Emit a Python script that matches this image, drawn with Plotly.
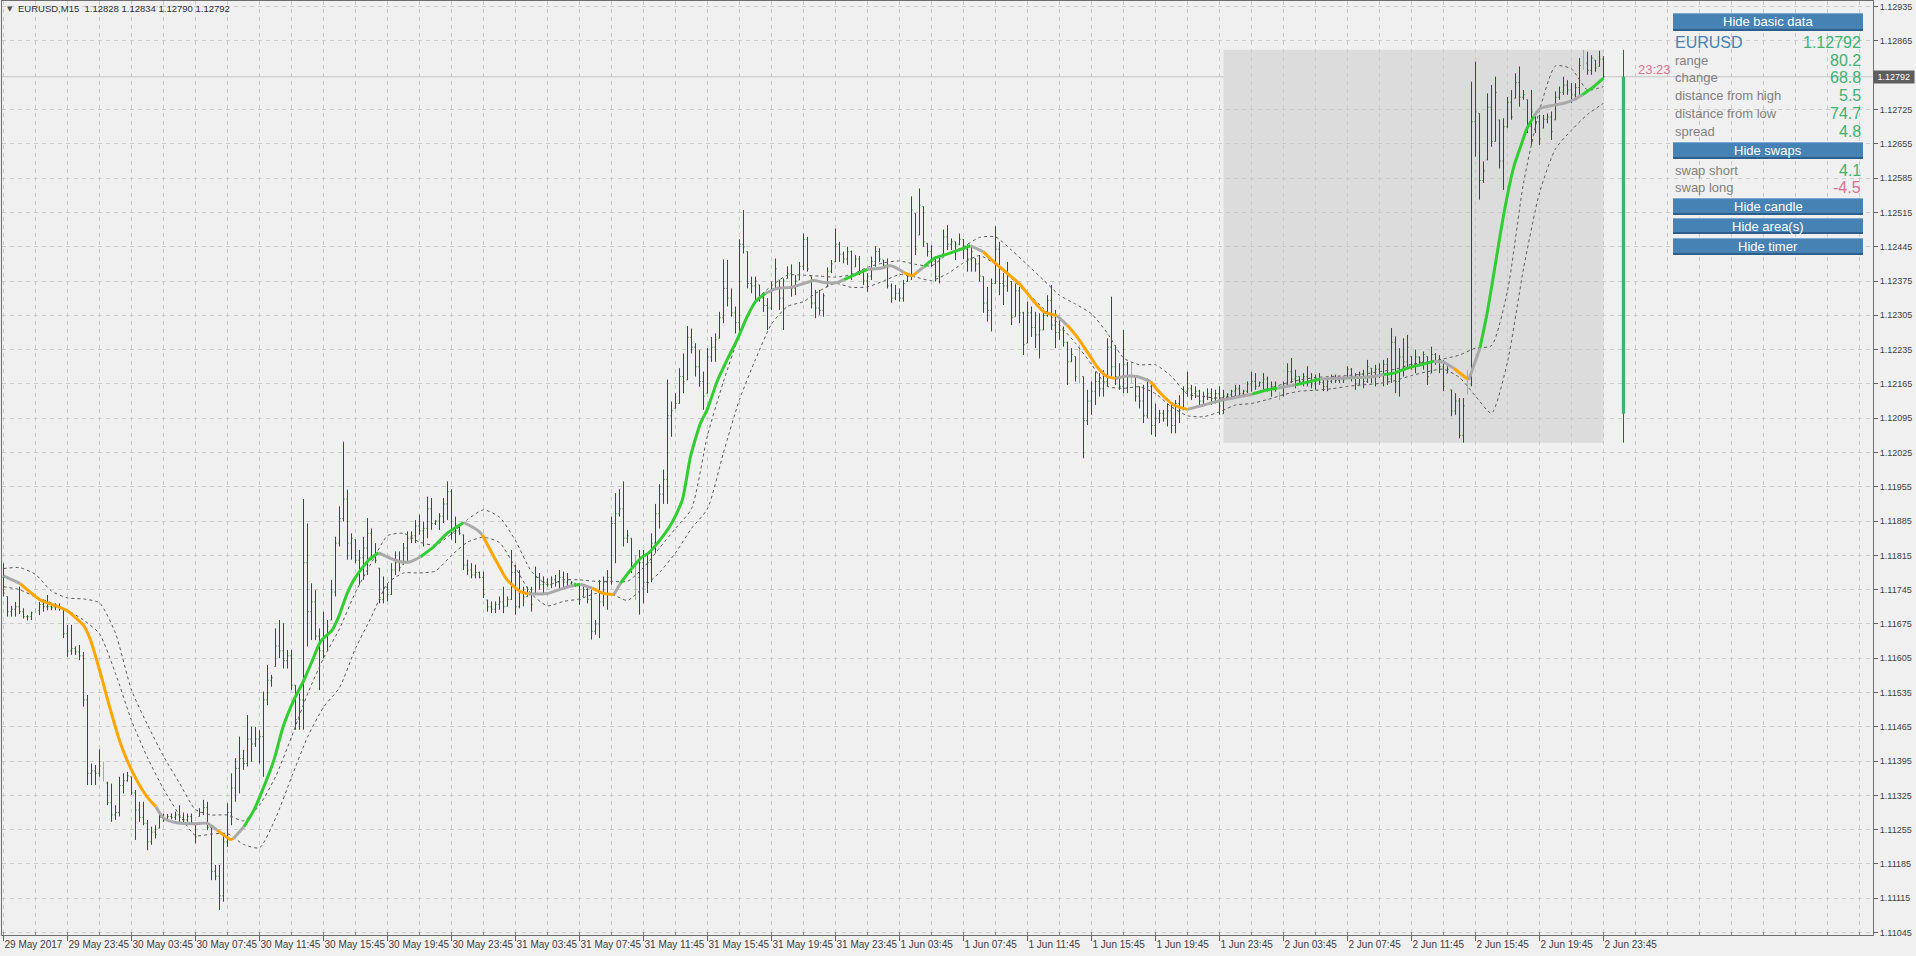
import plotly.graph_objects as go

# ---------------- DATA (prices stored as pips above BASE) ----------------
BASE = 1.1100
PIP = 0.0001

hi_p = [
79.9, 73.1, 71.2, 72.0, 75.1, 70.7, 69.3, 70.0, 70.7, 72.0,
72.4, 73.4, 71.7, 71.7, 71.7, 70.7, 67.3, 67.3, 62.9, 63.2,
61.8, 53.0, 39.0, 38.7, 41.9, 39.4, 35.3, 34.9, 30.5, 36.3,
37.0, 37.3, 36.3, 33.6, 31.2, 31.2, 27.5, 26.1, 26.4, 28.8,
28.8, 28.7, 28.8, 29.2, 30.5, 29.0, 28.8, 28.8, 26.8, 29.9,
31.6, 31.2, 26.1, 18.3, 18.3, 24.4, 30.9, 37.0, 40.1, 44.5,
41.8, 48.9, 46.5, 46.5, 45.8, 53.7, 59.1, 57.1, 66.6, 68.3,
67.6, 62.2, 62.2, 55.0, 53.3, 93.0, 88.0, 75.8, 74.4, 66.6,
70.0, 68.3, 76.5, 85.3, 91.5, 104.7, 94.9, 86.0, 84.7, 82.6,
85.3, 89.1, 87.0, 84.0, 78.9, 77.2, 75.8, 79.9, 82.3, 82.3,
84.0, 86.4, 86.4, 88.7, 89.8, 88.4, 93.5, 93.2, 88.7, 90.1,
93.2, 96.6, 95.0, 89.4, 87.4, 85.7, 80.6, 79.9, 79.6, 78.2,
78.2, 72.4, 72.1, 72.1, 73.1, 75.1, 73.1, 82.6, 79.6, 78.5,
75.1, 75.1, 75.1, 79.2, 77.9, 77.2, 76.8, 77.2, 77.5, 78.5,
78.2, 77.9, 76.2, 75.8, 75.8, 75.1, 74.8, 74.5, 68.3, 76.5,
77.2, 78.5, 89.4, 94.2, 95.0, 96.6, 86.7, 85.0, 81.6, 82.6,
82.6, 81.9, 86.0, 92.0, 96.0, 99.0, 117.4, 112.9, 114.6, 119.7,
122.7, 128.3, 127.8, 124.8, 123.4, 119.0, 123.8, 126.1, 126.8, 131.2,
141.9, 141.8, 136.0, 132.3, 146.0, 152.0, 143.5, 138.4, 138.4, 136.7,
134.6, 134.0, 137.4, 142.1, 137.7, 138.0, 140.5, 140.9, 138.7, 141.4,
147.2, 146.5, 138.4, 135.7, 135.7, 135.0, 140.3, 141.8, 148.2, 145.5,
143.5, 144.5, 143.7, 142.8, 142.6, 139.4, 139.1, 142.5, 144.6, 144.2,
141.8, 142.1, 137.0, 136.7, 136.0, 137.7, 139.1, 154.8, 151.3, 156.4,
152.7, 145.2, 144.8, 142.5, 142.8, 148.0, 148.9, 146.2, 145.5, 147.2,
146.0, 145.0, 144.8, 142.1, 142.8, 138.4, 136.3, 138.0, 148.7, 145.5,
139.1, 141.4, 137.4, 137.0, 136.3, 131.2, 133.3, 132.3, 131.2, 130.9,
131.2, 134.6, 136.7, 131.6, 129.5, 128.2, 125.1, 123.8, 122.1, 124.4,
118.0, 115.3, 117.0, 119.0, 118.7, 119.3, 125.8, 134.3, 124.4, 120.7,
127.5, 121.0, 121.0, 118.0, 116.0, 116.3, 117.6, 117.0, 112.5, 111.2,
111.2, 112.5, 112.2, 113.2, 114.2, 116.0, 119.0, 116.3, 116.0, 115.3,
114.9, 115.6, 115.6, 115.3, 116.0, 115.3, 114.6, 115.3, 116.3, 116.3,
115.3, 117.0, 119.0, 118.7, 117.0, 118.7, 118.0, 117.0, 117.0, 114.9,
117.0, 120.7, 121.8, 119.4, 118.0, 118.7, 120.1, 118.7, 118.4, 118.7,
117.3, 117.7, 118.4, 118.4, 118.0, 118.0, 120.1, 119.7, 118.7, 119.0,
119.4, 121.4, 119.7, 120.4, 120.7, 121.4, 121.8, 127.9, 126.2, 123.8,
125.8, 126.5, 122.1, 123.5, 122.1, 123.1, 122.1, 124.1, 122.8, 122.4,
121.4, 120.1, 115.3, 114.6, 113.6, 113.6, 119.4, 178.2, 182.3, 171.7,
161.9, 175.8, 177.5, 179.2, 170.4, 170.7, 175.1, 176.5, 179.9, 181.3,
176.5, 174.5, 176.5, 171.7, 171.4, 171.4, 171.7, 172.1, 176.2, 177.2,
179.2, 178.5, 177.9, 177.9, 183.0, 184.7, 184.3, 183.6, 182.6, 184.5,
183.4]

lo_p = [
73.1, 69.0, 69.0, 69.0, 69.5, 68.6, 68.2, 68.3, 69.8, 69.3,
70.0, 70.3, 70.3, 70.3, 70.2, 64.6, 60.8, 61.2, 61.2, 60.1,
50.6, 34.6, 34.6, 34.6, 36.3, 35.3, 30.5, 27.1, 27.5, 28.2,
32.9, 35.3, 32.6, 23.4, 27.1, 26.4, 21.3, 22.4, 23.7, 25.8,
27.1, 27.5, 27.6, 27.5, 26.8, 26.8, 27.1, 26.8, 22.7, 28.2,
28.5, 25.4, 15.2, 15.2, 9.1, 10.8, 22.0, 26.4, 31.2, 32.9,
37.7, 38.4, 39.4, 42.4, 39.0, 36.3, 50.9, 54.7, 58.8, 60.5,
58.4, 58.4, 54.0, 45.9, 45.9, 45.9, 62.9, 64.2, 64.2, 54.0,
60.5, 62.0, 68.3, 73.1, 83.3, 88.4, 80.6, 80.6, 79.9, 75.5,
76.5, 77.5, 80.6, 79.9, 71.7, 71.7, 72.1, 73.4, 77.5, 78.2,
79.6, 79.9, 84.0, 84.0, 85.7, 83.3, 85.0, 86.7, 87.7, 86.7,
88.1, 88.7, 84.7, 84.0, 85.7, 78.5, 77.5, 76.8, 76.8, 76.8,
72.8, 70.0, 69.7, 69.7, 70.4, 69.7, 71.1, 72.4, 69.4, 70.7,
71.1, 73.1, 70.0, 73.8, 74.5, 73.8, 75.1, 74.8, 75.1, 74.5,
74.8, 74.8, 75.5, 75.1, 71.4, 73.1, 71.7, 64.3, 65.3, 64.6,
71.1, 70.4, 75.5, 79.9, 89.4, 83.3, 84.0, 77.9, 72.4, 69.4,
71.7, 73.8, 76.0, 82.0, 87.0, 92.0, 92.0, 105.7, 111.5, 112.5,
114.6, 117.3, 122.7, 118.0, 115.9, 111.2, 114.6, 121.0, 121.0, 125.8,
128.9, 132.3, 130.2, 126.8, 126.1, 143.1, 136.0, 135.0, 133.3, 133.3,
131.2, 127.5, 131.6, 135.7, 131.6, 127.5, 138.0, 134.3, 134.6, 137.7,
139.7, 139.4, 131.9, 129.9, 130.6, 130.2, 136.3, 139.1, 141.4, 141.4,
141.1, 140.8, 137.7, 140.4, 138.7, 136.7, 135.3, 137.7, 140.4, 141.4,
140.4, 136.0, 133.1, 133.6, 133.3, 133.3, 137.4, 137.7, 142.8, 146.9,
144.5, 142.5, 140.4, 137.4, 137.0, 143.1, 143.8, 143.8, 141.8, 144.8,
142.0, 139.4, 139.4, 139.4, 137.4, 131.0, 129.2, 127.2, 137.0, 134.6,
132.6, 135.3, 128.5, 130.2, 128.9, 122.4, 124.8, 126.1, 123.8, 121.7,
127.5, 130.2, 127.5, 123.8, 125.5, 124.1, 116.3, 121.0, 117.0, 116.6,
101.3, 108.1, 110.2, 112.2, 113.9, 113.9, 116.0, 118.0, 116.3, 115.3,
114.6, 114.6, 116.6, 112.9, 111.5, 108.5, 109.5, 106.1, 105.7, 108.5,
108.8, 107.8, 106.4, 106.4, 108.5, 111.2, 113.9, 113.2, 113.6, 111.9,
112.2, 113.2, 112.2, 112.5, 110.2, 110.4, 113.6, 113.6, 113.9, 113.9,
113.9, 114.6, 114.9, 115.3, 116.0, 115.3, 114.9, 113.9, 114.9, 113.2,
113.9, 116.3, 116.7, 115.6, 116.3, 116.0, 116.0, 115.6, 115.3, 116.3,
115.0, 115.0, 116.7, 116.7, 116.7, 116.7, 117.7, 117.0, 115.3, 116.3,
115.6, 116.7, 116.7, 116.0, 117.7, 116.0, 116.3, 116.7, 114.6, 113.9,
118.0, 119.7, 119.4, 118.7, 120.1, 119.4, 116.3, 118.7, 120.4, 118.7,
115.0, 118.7, 109.9, 110.2, 105.4, 104.5, 114.3, 116.0, 162.9, 154.1,
157.5, 162.2, 164.9, 166.0, 160.5, 156.1, 168.7, 170.4, 174.8, 173.1,
174.5, 167.7, 165.3, 167.7, 165.3, 168.7, 169.7, 166.3, 170.4, 174.5,
175.5, 175.5, 173.8, 174.8, 175.5, 180.6, 179.6, 179.6, 180.2, 181.3,
179.0]

op_p = [
77.0, 73.1, 70.0, 70.5, 71.0, 70.0, 69.0, 69.0, 70.2, 70.2,
71.5, 71.0, 71.0, 70.8, 71.2, 70.6, 65.5, 62.0, 62.5, 61.8,
61.0, 52.0, 37.0, 37.5, 37.0, 37.0, 35.0, 31.0, 28.5, 29.0,
34.5, 35.5, 36.3, 33.0, 29.5, 28.0, 26.8, 23.0, 25.0, 25.8,
28.0, 27.5, 28.2, 28.0, 28.5, 28.0, 27.5, 28.2, 26.8, 28.2,
29.0, 30.0, 26.0, 17.0, 16.0, 12.0, 23.0, 29.0, 34.0, 38.0,
40.0, 39.0, 44.0, 43.0, 44.0, 44.5, 52.0, 56.0, 58.8, 63.0,
62.0, 60.0, 61.0, 55.0, 48.0, 52.0, 80.0, 70.0, 72.0, 65.0,
62.0, 65.0, 68.3, 74.0, 84.0, 89.0, 93.0, 84.0, 84.7, 80.5,
81.0, 83.0, 86.0, 81.0, 78.9, 72.5, 75.0, 73.5, 78.5, 80.0,
79.6, 83.0, 85.0, 85.5, 87.5, 86.5, 87.0, 91.0, 88.0, 88.5,
89.5, 92.0, 94.5, 86.0, 86.5, 85.7, 79.5, 78.5, 77.5, 78.0,
77.0, 72.4, 71.0, 70.5, 71.5, 72.0, 71.1, 72.5, 78.0, 71.0,
74.0, 73.1, 74.5, 73.8, 77.0, 75.5, 76.0, 75.5, 76.5, 76.0,
77.0, 76.0, 75.7, 75.8, 75.3, 73.1, 74.5, 72.5, 66.0, 67.5,
72.0, 76.0, 77.0, 88.0, 90.0, 91.0, 85.0, 85.0, 77.0, 77.0,
80.0, 76.0, 80.0, 84.0, 90.0, 94.0, 97.0, 110.0, 111.5, 112.5,
118.0, 117.3, 126.0, 124.0, 120.0, 117.0, 114.6, 122.0, 124.0, 125.8,
130.0, 136.0, 134.0, 131.0, 129.0, 145.0, 143.5, 137.0, 136.5, 136.7,
134.0, 132.5, 132.0, 136.0, 137.7, 134.0, 138.0, 139.0, 136.0, 137.7,
140.5, 146.0, 138.4, 133.0, 132.0, 131.5, 136.3, 139.5, 141.4, 145.0,
143.0, 142.0, 143.5, 140.4, 142.0, 139.4, 137.5, 138.5, 141.5, 143.5,
141.8, 140.8, 136.5, 134.0, 135.0, 134.0, 137.4, 138.5, 151.3, 146.9,
152.7, 145.2, 143.5, 141.5, 138.5, 143.1, 146.5, 145.0, 145.5, 145.0,
146.0, 144.0, 142.0, 142.1, 141.0, 138.4, 133.0, 131.5, 137.0, 144.0,
137.0, 136.5, 137.4, 130.2, 135.5, 131.0, 124.8, 131.0, 128.0, 126.5,
127.5, 130.5, 133.5, 128.5, 127.0, 127.5, 125.0, 121.0, 122.1, 120.5,
118.0, 109.0, 113.0, 115.0, 117.0, 115.5, 117.0, 124.0, 120.0, 118.0,
116.0, 120.5, 118.5, 118.0, 114.0, 113.0, 110.0, 116.0, 108.0, 109.5,
110.5, 109.5, 111.0, 108.0, 112.5, 111.2, 115.0, 115.5, 114.5, 115.0,
113.0, 114.0, 114.5, 113.5, 114.5, 110.4, 114.0, 114.3, 115.0, 115.5,
114.5, 115.0, 116.5, 117.0, 116.0, 116.8, 117.5, 115.5, 116.0, 114.2,
114.2, 116.3, 119.0, 117.5, 118.0, 117.0, 118.0, 117.0, 116.5, 117.5,
116.8, 116.0, 117.0, 117.8, 117.2, 117.6, 117.7, 119.5, 118.0, 116.5,
118.5, 117.0, 119.7, 118.0, 119.5, 118.5, 120.5, 117.5, 125.0, 117.0,
122.0, 121.0, 122.1, 120.5, 122.0, 121.0, 122.1, 118.7, 122.5, 121.0,
120.0, 118.7, 115.3, 111.0, 113.0, 106.0, 116.5, 116.5, 170.0, 171.7,
158.0, 162.2, 173.0, 166.0, 170.4, 162.0, 169.0, 174.0, 174.8, 178.0,
175.0, 174.5, 169.0, 171.7, 170.0, 168.7, 170.5, 171.0, 170.4, 175.0,
176.0, 177.5, 176.5, 175.5, 177.0, 182.0, 182.0, 180.5, 182.6, 181.3,
182.8]

cl_p = [
73.8, 70.0, 70.5, 71.0, 70.0, 69.0, 69.0, 69.8, 70.2, 71.5,
71.0, 71.0, 70.8, 71.2, 70.6, 65.5, 62.0, 62.5, 61.8, 61.0,
52.0, 37.0, 37.5, 37.0, 38.5, 37.0, 31.0, 28.5, 29.0, 34.5,
35.5, 36.5, 33.0, 29.5, 28.0, 26.8, 23.0, 25.0, 24.5, 28.0,
27.5, 28.2, 28.0, 28.5, 28.0, 27.5, 28.2, 27.0, 24.0, 29.0,
30.0, 26.0, 17.0, 16.0, 12.0, 23.0, 29.0, 34.0, 38.0, 40.0,
39.0, 44.0, 43.0, 44.0, 44.5, 52.0, 56.0, 56.5, 63.0, 62.0,
60.0, 61.0, 55.0, 48.0, 52.0, 80.0, 70.0, 72.0, 65.0, 62.0,
65.0, 67.0, 74.0, 84.0, 89.0, 93.0, 84.0, 85.0, 80.5, 81.0,
83.0, 86.0, 81.0, 80.5, 72.5, 75.0, 73.5, 78.5, 80.0, 79.0,
83.0, 85.0, 85.5, 87.5, 86.5, 87.0, 91.0, 88.0, 88.5, 89.5,
92.0, 94.5, 86.0, 86.5, 86.0, 79.5, 78.5, 77.5, 78.0, 77.0,
73.5, 71.0, 70.5, 71.5, 72.0, 71.0, 72.5, 78.0, 71.0, 74.0,
73.0, 74.5, 71.5, 77.0, 75.5, 76.0, 75.5, 76.5, 76.0, 77.0,
76.0, 76.5, 76.0, 75.3, 72.5, 74.5, 72.5, 66.0, 67.5, 72.0,
76.0, 77.0, 88.0, 90.0, 91.0, 85.0, 85.5, 80.0, 77.0, 80.0,
76.0, 80.0, 84.0, 90.0, 94.0, 97.0, 110.0, 111.0, 112.5, 118.0,
117.0, 126.0, 124.0, 120.0, 117.0, 114.0, 122.0, 124.0, 125.5, 130.0,
136.0, 134.0, 131.0, 129.0, 145.0, 144.5, 137.0, 136.5, 137.5, 134.0,
132.5, 132.0, 136.0, 140.0, 134.0, 137.5, 139.0, 136.0, 137.5, 140.5,
146.0, 140.0, 133.0, 132.0, 131.5, 134.5, 139.5, 141.0, 145.0, 143.0,
142.0, 143.5, 139.0, 142.0, 139.5, 137.5, 138.5, 141.5, 143.5, 142.0,
140.8, 136.5, 134.0, 135.0, 134.0, 137.0, 138.5, 152.0, 144.0, 153.0,
145.5, 143.5, 141.5, 138.5, 142.0, 146.5, 145.0, 145.5, 145.0, 146.0,
144.0, 142.0, 143.5, 141.0, 138.5, 133.0, 131.5, 137.0, 144.0, 137.0,
136.5, 139.0, 130.0, 135.5, 131.0, 124.5, 131.0, 128.0, 126.5, 127.5,
130.5, 133.5, 128.5, 127.0, 127.5, 125.0, 121.0, 122.5, 118.0, 120.5,
109.0, 113.0, 115.0, 117.0, 115.5, 117.0, 124.0, 120.0, 118.0, 116.0,
120.5, 118.0, 118.5, 114.0, 113.0, 110.0, 116.0, 108.0, 109.5, 110.5,
109.5, 111.0, 108.0, 112.5, 111.0, 115.0, 115.5, 114.5, 115.0, 113.0,
114.0, 114.5, 113.5, 114.5, 112.0, 114.0, 114.3, 115.0, 115.5, 114.5,
115.0, 116.5, 117.0, 116.0, 116.8, 117.5, 115.5, 116.0, 115.5, 114.2,
116.0, 119.0, 117.5, 118.0, 117.0, 118.0, 117.0, 116.5, 117.5, 116.8,
116.0, 117.0, 117.8, 117.2, 117.6, 117.3, 119.5, 118.0, 116.5, 118.5,
117.0, 120.0, 118.0, 119.5, 118.5, 120.5, 117.5, 125.0, 117.0, 122.0,
121.0, 124.0, 120.5, 122.0, 121.0, 122.5, 118.0, 122.5, 121.0, 120.0,
116.0, 119.5, 111.0, 113.0, 106.0, 112.0, 116.5, 170.0, 172.0, 158.0,
160.0, 173.0, 166.0, 176.0, 162.0, 169.0, 174.0, 171.0, 178.0, 175.0,
175.5, 169.0, 172.0, 170.0, 166.5, 170.5, 171.0, 168.0, 175.0, 176.0,
177.5, 176.5, 175.5, 177.0, 181.5, 182.0, 180.5, 183.0, 181.0, 182.8,
179.2]

doji_bars = [8, 25, 158, 269, 282, 319, 366, 395]

# smoothed moving average, colour state of the segment that starts at each point
ma_bar = [0, 4.1, 9.25, 15.9, 20.1, 21.75, 24.25, 26.75, 29.25, 32.6, 35.9, 38.1, 40.1, 43.4, 47.6,
          50.9, 53.4, 56.75, 57.5, 60.1, 62.6, 65.1, 67.6, 69.9, 72.6, 75.1, 77.6, 79.25, 82.2, 83.8,
          85.9, 87.6, 89.25, 91.75, 93.8, 96.75, 99.25, 101.75, 104.25, 107.6, 110.9, 115.1, 118.4,
          119.7, 122.6, 125.9, 129.25, 131.3, 135.9, 140.1, 142.6, 144.25, 147.2, 150.1, 152.6,
          154.25, 156.75, 159.25, 161.3, 164.0, 167.0, 169.7, 171.75, 174.25, 175.9, 178.4, 180.9,
          183.4, 185.9, 188.0, 190.5, 193.4, 196.75, 200.1, 202.6, 205.1, 208.4, 210.1, 212.6, 216.0,
          219.25, 221.75, 224.25, 225.1, 227.2, 228.4, 230.1, 232.6, 235.9, 238.4, 241.75, 244.9,
          247.6, 250.9, 254.25, 257.6, 260.1, 263.4, 265.9, 268.4, 270.9, 273.4, 275.9, 278.0,
          280.9, 283.4, 286.75, 289.25, 292.6, 296.0, 300.1, 304.25, 308.4, 312.2, 315.9, 318.4,
          323.0, 329.25, 335.9, 342.6, 345.1, 347.6, 350.9, 354.25, 357.6, 360.1, 362.6, 366.3,
          369.1, 370.9, 372.6, 374.25, 375.9, 377.6, 379.25, 380.9, 382.6, 384.25, 387.6, 390.1,
          392.6, 394.7, 397.6, 400.0]
ma_pips = [77.3, 75.8, 72.4, 70.2, 67.1, 64.2, 57.4, 49.9, 43.1, 36.7, 32.2, 30.2, 27.8, 26.9, 26.7,
           26.8, 25.4, 23.5, 23.7, 26.1, 29.5, 34.3, 39.7, 46.5, 52.0, 56.0, 60.8, 63.9, 66.3, 69.0,
           73.7, 76.5, 78.5, 80.9, 82.0, 80.9, 80.2, 80.2, 81.2, 83.3, 86.0, 88.2, 86.7,
           85.7, 81.2, 76.5, 74.1, 73.6, 73.7, 74.8, 75.4, 75.6, 74.8, 73.7, 73.5,
           75.8, 78.5, 80.9, 82.0, 84.5, 88.0, 92.8, 101.7, 108.5, 111.2, 117.0, 121.4,
           125.5, 130.2, 133.3, 135.0, 136.0, 136.2, 137.0, 137.6, 137.2, 137.2, 137.8, 138.7, 139.9,
           140.1, 140.6, 139.7, 139.2, 138.6, 139.3, 140.4, 142.1, 143.0, 143.7, 144.7, 143.5,
           141.4, 139.1, 136.7, 133.3, 131.2, 130.4, 128.5, 126.1, 123.1, 120.0, 118.0, 117.6,
           118.1, 118.0, 117.0, 114.6, 112.2, 111.3, 112.2, 113.1, 113.8, 114.4, 115.3, 115.6,
           116.3, 117.5, 117.7, 118.0, 118.4, 118.7, 119.7, 120.4, 121.1, 120.9, 119.7, 117.3,
           123.8, 130.9, 139.1, 147.3, 154.7, 160.9, 164.9, 168.7, 171.1, 172.8, 173.4, 173.8,
           174.5, 175.5, 177.2, 178.9]
ma_state = ['n', 'd', 'd', 'd', 'd', 'd', 'd', 'd', 'd', 'd', 'd', 'n', 'n', 'n', 'n',
            'n', 'd', 'd', 'n', 'u', 'u', 'u', 'u', 'u', 'u', 'u', 'u', 'u', 'u', 'u',
            'u', 'u', 'u', 'u', 'n', 'n', 'n', 'n', 'u', 'u', 'u', 'n', 'n',
            'd', 'd', 'd', 'd', 'n', 'n', 'n', 'u', 'n', 'd', 'd', 'n',
            'u', 'u', 'u', 'u', 'u', 'u', 'u', 'u', 'u', 'u', 'u', 'u',
            'u', 'u', 'u', 'n', 'n', 'n', 'n', 'n', 'n', 'n', 'u', 'u', 'n',
            'n', 'n', 'n', 'd', 'd', 'n', 'u', 'u', 'u', 'u', 'n', 'd',
            'd', 'd', 'd', 'd', 'd', 'n', 'd', 'd', 'd', 'd', 'd', 'n',
            'n', 'n', 'd', 'd', 'd', 'n', 'n', 'n', 'n', 'u', 'u', 'n',
            'u', 'n', 'n', 'n', 'u', 'u', 'u', 'u', 'n', 'n', 'd', 'n',
            'u', 'u', 'u', 'u', 'u', 'u', 'u', 'u', 'n', 'n', 'n', 'n',
            'n', 'u', 'u', 'u']

# channel lines, sampled every 4 bars (bar 0 .. 400)
band_bar = list(range(0, 401, 4))
band_up = [78.8, 79.0, 77.6, 74.2, 72.8, 72.6, 71.8, 65.6, 54.0, 46.9, 40.5, 35.0, 29.6, 28.5, 28.5,
           27.3, 30.5, 36.3, 44.4, 53.2, 60.5, 66.5, 74.0, 80.0, 85.5, 86.0, 84.2, 83.6, 85.9, 88.8,
           90.8, 89.3, 84.5, 78.2, 75.5, 76.5, 76.5, 76.2, 76.2, 76.2, 79.0, 83.0, 87.0, 91.0, 106.0,
           117.0, 126.5, 133.5, 136.5, 138.7, 138.7, 138.5, 138.3, 138.8, 140.3, 141.2, 141.6, 140.9,
           140.6, 143.0, 144.5, 146.4, 146.5, 143.8, 140.8, 137.7, 134.6, 132.8, 130.8, 126.8, 121.8,
           120.4, 120.4, 118.0, 114.4, 113.9, 113.6, 114.0, 114.4, 115.4, 116.5, 117.3, 117.8, 118.0,
           118.2, 118.5, 119.0, 119.5, 120.5, 121.0, 121.6, 122.4, 123.8, 124.3, 135.5, 157.5, 172.3,
           181.4, 180.8, 176.5, 177.2]
band_dn = [75.1, 74.5, 73.0, 71.8, 70.3, 68.3, 65.5, 57.4, 47.8, 40.2, 33.8, 28.5, 24.3, 24.6, 24.7,
           22.5, 21.8, 27.8, 36.2, 44.4, 50.5, 54.5, 62.5, 69.0, 75.8, 77.9, 77.9, 78.3, 81.5, 84.2,
           85.2, 84.1, 79.0, 73.6, 71.2, 72.1, 72.6, 73.7, 73.6, 72.3, 75.0, 78.0, 82.0, 87.0, 91.0,
           102.5, 113.3, 121.5, 128.7, 132.3, 133.3, 135.5, 137.0, 136.2, 136.3, 137.5, 138.8, 138.3,
           137.6, 139.0, 141.2, 142.7, 140.9, 138.0, 135.0, 131.9, 128.5, 124.8, 120.5, 116.0, 115.6,
           115.9, 114.5, 111.8, 110.0, 109.8, 110.8, 112.2, 112.5, 113.3, 114.3, 115.0, 115.2, 115.5,
           116.0, 116.3, 116.6, 117.2, 118.2, 119.0, 119.5, 117.8, 114.0, 110.5, 121.0, 140.0, 155.5,
           164.5, 168.3, 171.5, 173.8]

x_labels = ["29 May 2017", "29 May 23:45", "30 May 03:45", "30 May 07:45", "30 May 11:45",
            "30 May 15:45", "30 May 19:45", "30 May 23:45", "31 May 03:45", "31 May 07:45",
            "31 May 11:45", "31 May 15:45", "31 May 19:45", "31 May 23:45", "1 Jun 03:45",
            "1 Jun 07:45", "1 Jun 11:45", "1 Jun 15:45", "1 Jun 19:45", "1 Jun 23:45",
            "2 Jun 03:45", "2 Jun 07:45", "2 Jun 11:45", "2 Jun 15:45", "2 Jun 19:45", "2 Jun 23:45"]
x_label_bars = list(range(0, 401, 16))

y_tick_first, y_tick_step, y_tick_count = 1.11045, 0.0007, 28

symbol = "EURUSD"
title_text = "EURUSD,M15\u00a0\u00a01.12828 1.12834 1.12790 1.12792"
last_price = 1.12792
day_start_bar = 305
day_open, day_high, day_low, day_close = 1.12104, 1.12847, 1.12045, 1.12792
timer_text = "23:23"

panel_labels = ["range", "change", "distance from high", "distance from low", "spread"]
panel_values = ["80.2", "68.8", "5.5", "74.7", "4.8"]
swap_labels = ["swap short", "swap long"]
swap_values = ["4.1", "-4.5"]
button_texts = ["Hide basic data", "Hide swaps", "Hide candle", "Hide area(s)", "Hide timer"]

# ---------------- HELPERS ----------------
def price(p):
    return BASE + p * PIP

n = len(hi_p)
idx = list(range(n))
main_i = [i for i in idx if i not in doji_bars]

# y ticks; the one hidden behind the current-price box is left out
y_ticks = [round(y_tick_first + k * y_tick_step, 5) for k in range(y_tick_count)]
y_ticks = [t for t in y_ticks if abs(t - last_price) > 0.0001]

W, H = 1916, 956
ML, MR, MT, MB = 2, 43, 1, 21
PW, PH = W - ML - MR, H - MT - MB

def xp(px):
    return (px - ML) / PW

def yp(py):
    return (MT + PH - py) / PH

FONT = "Liberation Sans, Arial, sans-serif"
BAR_GREEN = "#006E00"
BG = "#F0F0F0"

fig = go.Figure()

# bars
fig.add_trace(go.Ohlc(
    x=main_i,
    open=[price(op_p[i]) for i in main_i], high=[price(hi_p[i]) for i in main_i],
    low=[price(lo_p[i]) for i in main_i], close=[price(cl_p[i]) for i in main_i],
    increasing=dict(line=dict(color=BAR_GREEN, width=1)),
    decreasing=dict(line=dict(color=BAR_GREEN, width=1)),
    tickwidth=0.25, hoverinfo="skip", showlegend=False))

dgap = min(b - a for a, b in zip(doji_bars[:-1], doji_bars[1:]))
fig.add_trace(go.Ohlc(
    x=doji_bars,
    open=[price(op_p[i]) for i in doji_bars], high=[price(hi_p[i]) for i in doji_bars],
    low=[price(lo_p[i]) for i in doji_bars], close=[price(cl_p[i]) for i in doji_bars],
    increasing=dict(line=dict(color="#A8A8A8", width=1)),
    decreasing=dict(line=dict(color="#A8A8A8", width=1)),
    tickwidth=0.25 / dgap, hoverinfo="skip", showlegend=False))

# channel lines
for band in (band_up, band_dn):
    fig.add_trace(go.Scatter(x=band_bar, y=[price(v) for v in band], mode="lines",
                             line=dict(color="#5A5A5A", width=1, dash="3px,3px", shape="spline", smoothing=0.6),
                             hoverinfo="skip", showlegend=False))

# coloured moving average
COL = {'u': '#32CD32', 'd': '#FFA500', 'n': '#A9A9A9'}
segs = []
for k in range(len(ma_bar) - 1):
    s = ma_state[k]
    if not segs or segs[-1]['s'] != s:
        segs.append({'s': s, 'x': [ma_bar[k]], 'y': [price(ma_pips[k])]})
    segs[-1]['x'].append(ma_bar[k + 1])
    segs[-1]['y'].append(price(ma_pips[k + 1]))
for sg in segs:
    fig.add_trace(go.Scatter(x=sg['x'], y=sg['y'], mode="lines",
                             line=dict(color=COL[sg['s']], width=3, shape="spline", smoothing=0.6),
                             hoverinfo="skip", showlegend=False))

# daily candle to the right of the last bar
candle_x = n - 1 + 5
fig.add_trace(go.Scatter(x=[candle_x, candle_x], y=[day_low, day_high], mode="lines",
                         line=dict(color="#0A7F0A", width=1), hoverinfo="skip", showlegend=False))
fig.add_trace(go.Scatter(x=[candle_x, candle_x], y=[day_open, day_close], mode="lines",
                         line=dict(color="#3CB371", width=3.3), hoverinfo="skip", showlegend=False))

shapes = []
# day range area
shapes.append(dict(type="rect", xref="x", yref="y", x0=day_start_bar, x1=n - 1, y0=day_low, y1=day_high,
                   fillcolor="#DCDCDC", line=dict(width=0), layer="below"))
# current price line
shapes.append(dict(type="line", xref="paper", yref="y", x0=0, x1=1, y0=last_price, y1=last_price,
                   line=dict(color="#C4C4C4", width=1), layer="below"))

annotations = []
# title
annotations.append(dict(xref="paper", yref="paper", x=xp(5), y=yp(9), xanchor="left", yanchor="middle",
                         text="\u25BC", showarrow=False, font=dict(family="DejaVu Sans", size=7, color="#505050")))
annotations.append(dict(xref="paper", yref="paper", x=xp(16), y=yp(9), xanchor="left", yanchor="middle",
                         text=title_text, showarrow=False, font=dict(family=FONT, size=9.5, color="#303030")))
# price label on axis
annotations.append(dict(xref="paper", yref="y", x=1, y=last_price, xanchor="left", yanchor="middle",
                         text="\u00a0" + f"{last_price:.5f}" + "\u00a0", showarrow=False, bgcolor="#5E5E5E",
                         borderpad=1, font=dict(family=FONT, size=9, color="white")))
# timer
annotations.append(dict(xref="x", yref="y", x=candle_x + 3, y=day_close, yshift=7, xanchor="left",
                         yanchor="middle", text=timer_text, showarrow=False,
                         font=dict(family=FONT, size=13, color="#E0708F")))

# info panel
PX0, PX1 = 1673, 1863
btn_rows = [(13, 31), (142, 159), (198, 215), (218, 234), (238, 255)]
for txt, (t, b) in zip(button_texts, btn_rows):
    shapes.append(dict(type="rect", xref="paper", yref="paper", x0=xp(PX0), x1=xp(PX1), y0=yp(b), y1=yp(t),
                       fillcolor="#4682B4", line=dict(width=0), layer="above"))
    shapes.append(dict(type="line", xref="paper", yref="paper", x0=xp(PX0), x1=xp(PX1), y0=yp(t + 0.5), y1=yp(t + 0.5),
                       line=dict(color="#7EA9D2", width=1), layer="above"))
    shapes.append(dict(type="line", xref="paper", yref="paper", x0=xp(PX0), x1=xp(PX1), y0=yp(b - 1), y1=yp(b - 1),
                       line=dict(color="#2E5E8C", width=2), layer="above"))
    annotations.append(dict(xref="paper", yref="paper", x=xp((PX0 + PX1) / 2), y=yp((t + b) / 2), xanchor="center",
                             yanchor="middle", text=txt, showarrow=False, font=dict(family=FONT, size=13, color="white")))

annotations.append(dict(xref="paper", yref="paper", x=xp(PX0), y=yp(42), xanchor="left", yanchor="middle",
                         text=symbol, showarrow=False, font=dict(family=FONT, size=16, color="#4682B4")))
annotations.append(dict(xref="paper", yref="paper", x=xp(PX1), y=yp(42), xanchor="right", yanchor="middle",
                         text=f"{last_price:.5f}", showarrow=False, font=dict(family=FONT, size=16, color="#3CB371")))

def val_color(v):
    return "#DB7093" if v.startswith("-") else "#3CB371"

for lab, val, yy in zip(panel_labels + swap_labels, panel_values + swap_values, [60, 78, 96, 113, 131, 170, 188]):
    annotations.append(dict(xref="paper", yref="paper", x=xp(PX0), y=yp(yy), xanchor="left", yanchor="middle",
                             text=lab, showarrow=False, font=dict(family=FONT, size=13, color="#808080")))
    annotations.append(dict(xref="paper", yref="paper", x=xp(PX1), y=yp(yy), xanchor="right", yanchor="middle",
                             text=val, showarrow=False, font=dict(family=FONT, size=16, color=val_color(val))))

fig.update_layout(
    width=W, height=H, margin=dict(l=ML, r=MR, t=MT, b=MB, autoexpand=False),
    paper_bgcolor=BG, plot_bgcolor=BG, showlegend=False, hovermode=False,
    shapes=shapes, annotations=annotations,
    xaxis=dict(range=[-0.375, 467.375], rangeslider=dict(visible=False), automargin=False,
               tickmode="array", tickvals=x_label_bars, ticktext=x_labels, tickangle=0,
               ticklabelposition="outside right", ticks="outside", ticklen=5, tickcolor="#606060",
               tickfont=dict(family=FONT, size=10, color="#404040"),
               showgrid=True, gridcolor="#CACACA", griddash="4px,4px", gridwidth=1,
               minor=dict(dtick=8, tick0=0, showgrid=True, gridcolor="#CACACA", griddash="4px,4px",
                          ticks="inside", ticklen=3, tickcolor="#909090"),
               showline=True, linecolor="#6E6E6E", linewidth=1, mirror=True, zeroline=False),
    yaxis=dict(side="right", range=[BASE + 4.0 * PIP, 1.129466], automargin=False,
               tickmode="array", tickvals=y_ticks, tickformat=".5f",
               ticks="outside", ticklen=4, tickcolor="#606060",
               tickfont=dict(family=FONT, size=9, color="#404040"),
               showgrid=True, gridcolor="#CACACA", griddash="4px,4px", gridwidth=1,
               showline=True, linecolor="#6E6E6E", linewidth=1, mirror=True, zeroline=False),
)

fig.write_html("out.html",
               config={"displayModeBar": False, "staticPlot": True},
               post_script="document.body.style.margin='0px';document.body.style.overflow='hidden';")
